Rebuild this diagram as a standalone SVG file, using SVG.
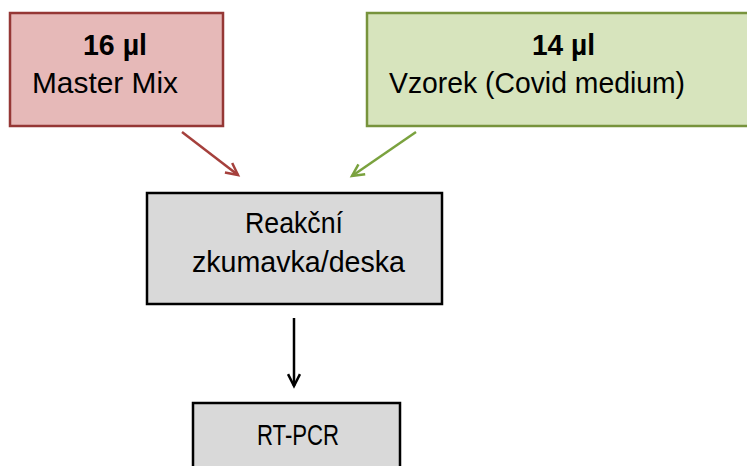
<svg xmlns="http://www.w3.org/2000/svg" width="747" height="466" viewBox="0 0 747 466">
<defs>
<style>
text{font-family:"Liberation Sans",Arial,sans-serif;font-size:29px;fill:#000}
.b{font-weight:bold}
.box{stroke-width:2.5}
.con{fill:none;stroke-width:2.5}
</style>
<marker id="mr" viewBox="0 0 12 12" refX="11" refY="6" markerWidth="13" markerHeight="13" orient="auto" markerUnits="userSpaceOnUse" overflow="visible">
<polyline points="0,0.5 11,6 0,11.5" fill="none" stroke="#A5403C" stroke-width="2.3"/>
</marker>
<marker id="mg" viewBox="0 0 12 12" refX="11" refY="6" markerWidth="13" markerHeight="13" orient="auto" markerUnits="userSpaceOnUse" overflow="visible">
<polyline points="0,0.5 11,6 0,11.5" fill="none" stroke="#7AA23E" stroke-width="2.3"/>
</marker>
<marker id="mk" viewBox="0 0 12 12" refX="11" refY="6" markerWidth="13" markerHeight="13" orient="auto" markerUnits="userSpaceOnUse" overflow="visible">
<polyline points="0,0.5 11,6 0,11.5" fill="none" stroke="#000" stroke-width="2.3"/>
</marker>
</defs>
<rect width="747" height="466" fill="#fff"/>
<g id="master">
<rect class="box" x="10" y="13" width="213" height="113" fill="#E6B9B8" stroke="#953735"/>
<text class="b" x="83" y="55" textLength="64" lengthAdjust="spacingAndGlyphs">16 µl</text>
<text x="32" y="93" textLength="146" lengthAdjust="spacingAndGlyphs">Master Mix</text>
</g>
<g id="vzorek">
<rect class="box" x="367" y="13" width="400" height="113" fill="#D7E4BD" stroke="#77933C"/>
<text class="b" x="532" y="55" textLength="63" lengthAdjust="spacingAndGlyphs">14 µl</text>
<text x="389" y="93" textLength="296" lengthAdjust="spacingAndGlyphs">Vzorek (Covid medium)</text>
</g>
<g id="zkumavka">
<rect class="box" x="147" y="193" width="295" height="111" fill="#D9D9D9" stroke="#000"/>
<text x="245" y="233" textLength="98" lengthAdjust="spacingAndGlyphs">Reakční</text>
<text x="192" y="272" textLength="213" lengthAdjust="spacingAndGlyphs">zkumavka/deska</text>
</g>
<g id="rtpcr">
<rect class="box" x="193" y="403" width="207" height="80" fill="#D9D9D9" stroke="#000"/>
<text x="257" y="445" textLength="82" lengthAdjust="spacingAndGlyphs">RT-PCR</text>
</g>
<g id="connectors">
<line class="con" x1="182" y1="132" x2="238" y2="175" stroke="#A5403C" marker-end="url(#mr)"/>
<line class="con" x1="416" y1="132" x2="352" y2="176" stroke="#7AA23E" marker-end="url(#mg)"/>
<line class="con" x1="294" y1="318" x2="294" y2="386" stroke="#000" marker-end="url(#mk)"/>
</g>
</svg>
